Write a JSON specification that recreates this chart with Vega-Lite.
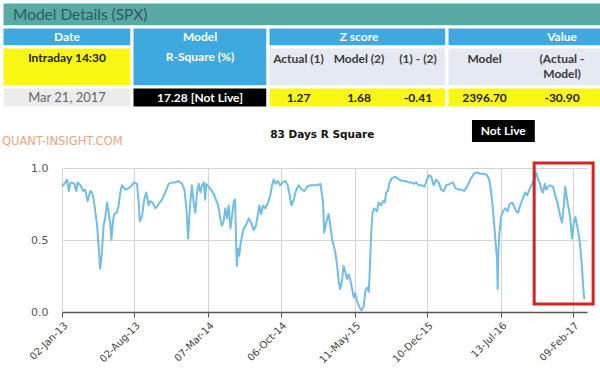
{
  "$schema": "https://vega.github.io/schema/vega-lite/v6.json",
  "padding": 0,
  "background": "white",
  "spacing": 16,
  "bounds": "flush",
  "config": {"view": {"stroke": null}},
  "datasets": {
    "cells": [
      {"col": 0, "col2": 7, "row": 0, "row2": 1, "kind": "title"},
      {"col": 0, "col2": 1, "row": 1, "row2": 2, "kind": "head"},
      {"col": 0, "col2": 1, "row": 2, "row2": 3, "kind": "yellow"},
      {"col": 1, "col2": 2, "row": 1, "row2": 3, "kind": "head"},
      {"col": 2, "col2": 5, "row": 1, "row2": 2, "kind": "head"},
      {"col": 5, "col2": 7, "row": 1, "row2": 2, "kind": "head"},
      {"col": 2, "col2": 5, "row": 2, "row2": 3, "kind": "sub"},
      {"col": 5, "col2": 7, "row": 2, "row2": 3, "kind": "sub"},
      {"col": 0, "col2": 1, "row": 3, "row2": 4, "kind": "grey"},
      {"col": 1, "col2": 2, "row": 3, "row2": 4, "kind": "black"},
      {"col": 2, "col2": 5, "row": 3, "row2": 4, "kind": "yellow"},
      {"col": 5, "col2": 7, "row": 3, "row2": 4, "kind": "yellow"}
    ],
    "labels": [
      {"text": "Model Details (SPX)", "col": 0, "row": 0.5, "role": "title"},
      {"text": "Date", "col": 0.5, "row": 1.5, "role": "head"},
      {"text": "Model", "col": 1.5, "row": 1.5, "role": "head"},
      {"text": "R-Square (%)", "col": 1.5, "row": 2.25, "role": "head"},
      {"text": "Z score", "col": 3.5, "row": 1.5, "role": "head"},
      {"text": "Value", "col": 6.5, "row": 1.5, "role": "head"},
      {"text": "Intraday 14:30", "col": 0.5, "row": 2.28, "role": "val"},
      {"text": "Actual (1)", "col": 2.5, "row": 2.3, "role": "sub"},
      {"text": "Model (2)", "col": 3.5, "row": 2.3, "role": "sub"},
      {"text": "(1) - (2)", "col": 4.5, "row": 2.3, "role": "sub"},
      {"text": "Model", "col": 5.5, "row": 2.3, "role": "sub"},
      {"text": "(Actual -", "col": 6.5, "row": 2.3, "role": "sub"},
      {"text": "Model)", "col": 6.5, "row": 2.68, "role": "sub"},
      {"text": "Mar 21, 2017", "col": 0.5, "row": 3.5, "role": "date"},
      {"text": "17.28 [Not Live]", "col": 1.5, "row": 3.5, "role": "live"},
      {"text": "1.27", "col": 2.5, "row": 3.5, "role": "val"},
      {"text": "1.68", "col": 3.5, "row": 3.5, "role": "val"},
      {"text": "-0.41", "col": 4.5, "row": 3.5, "role": "val"},
      {"text": "2396.70", "col": 5.5, "row": 3.5, "role": "val"},
      {"text": "-30.90", "col": 6.5, "row": 3.5, "role": "val"}
    ],
    "series": [
      {"date": "2013-01-02", "r2": 0.87}, {"date": "2013-01-12", "r2": 0.90}, {"date": "2013-01-17", "r2": 0.92},
      {"date": "2013-01-22", "r2": 0.84}, {"date": "2013-01-26", "r2": 0.89}, {"date": "2013-01-31", "r2": 0.90},
      {"date": "2013-02-07", "r2": 0.89}, {"date": "2013-02-13", "r2": 0.84}, {"date": "2013-02-17", "r2": 0.90},
      {"date": "2013-02-25", "r2": 0.88}, {"date": "2013-03-05", "r2": 0.84}, {"date": "2013-03-11", "r2": 0.85},
      {"date": "2013-03-18", "r2": 0.77}, {"date": "2013-03-26", "r2": 0.84}, {"date": "2013-03-31", "r2": 0.83},
      {"date": "2013-04-05", "r2": 0.78}, {"date": "2013-04-10", "r2": 0.69}, {"date": "2013-04-15", "r2": 0.60},
      {"date": "2013-04-20", "r2": 0.44}, {"date": "2013-04-24", "r2": 0.30}, {"date": "2013-04-29", "r2": 0.41},
      {"date": "2013-05-04", "r2": 0.60}, {"date": "2013-05-09", "r2": 0.66}, {"date": "2013-05-14", "r2": 0.76},
      {"date": "2013-05-19", "r2": 0.69}, {"date": "2013-05-24", "r2": 0.60}, {"date": "2013-05-27", "r2": 0.50},
      {"date": "2013-05-31", "r2": 0.62}, {"date": "2013-06-04", "r2": 0.68}, {"date": "2013-06-12", "r2": 0.69},
      {"date": "2013-06-17", "r2": 0.74}, {"date": "2013-06-22", "r2": 0.83}, {"date": "2013-06-27", "r2": 0.88},
      {"date": "2013-07-07", "r2": 0.85}, {"date": "2013-07-17", "r2": 0.86}, {"date": "2013-07-26", "r2": 0.88},
      {"date": "2013-08-02", "r2": 0.90}, {"date": "2013-08-10", "r2": 0.89}, {"date": "2013-08-15", "r2": 0.76},
      {"date": "2013-08-18", "r2": 0.63}, {"date": "2013-08-25", "r2": 0.67}, {"date": "2013-08-31", "r2": 0.78},
      {"date": "2013-09-06", "r2": 0.83}, {"date": "2013-09-13", "r2": 0.74}, {"date": "2013-09-18", "r2": 0.77},
      {"date": "2013-09-25", "r2": 0.76}, {"date": "2013-10-03", "r2": 0.72}, {"date": "2013-10-13", "r2": 0.75},
      {"date": "2013-10-22", "r2": 0.78}, {"date": "2013-11-01", "r2": 0.83}, {"date": "2013-11-11", "r2": 0.89},
      {"date": "2013-11-21", "r2": 0.90}, {"date": "2013-11-30", "r2": 0.90}, {"date": "2013-12-10", "r2": 0.91},
      {"date": "2013-12-20", "r2": 0.89}, {"date": "2013-12-27", "r2": 0.85}, {"date": "2014-01-02", "r2": 0.72},
      {"date": "2014-01-07", "r2": 0.51}, {"date": "2014-01-12", "r2": 0.72}, {"date": "2014-01-18", "r2": 0.88},
      {"date": "2014-01-23", "r2": 0.76}, {"date": "2014-01-28", "r2": 0.69}, {"date": "2014-02-02", "r2": 0.83},
      {"date": "2014-02-07", "r2": 0.89}, {"date": "2014-02-12", "r2": 0.83}, {"date": "2014-02-17", "r2": 0.88},
      {"date": "2014-02-22", "r2": 0.90}, {"date": "2014-02-26", "r2": 0.78}, {"date": "2014-03-01", "r2": 0.89},
      {"date": "2014-03-08", "r2": 0.87}, {"date": "2014-03-15", "r2": 0.85}, {"date": "2014-03-23", "r2": 0.82},
      {"date": "2014-04-02", "r2": 0.76}, {"date": "2014-04-07", "r2": 0.72}, {"date": "2014-04-11", "r2": 0.65},
      {"date": "2014-04-16", "r2": 0.60}, {"date": "2014-04-21", "r2": 0.63}, {"date": "2014-04-26", "r2": 0.72},
      {"date": "2014-05-01", "r2": 0.65}, {"date": "2014-05-06", "r2": 0.74}, {"date": "2014-05-11", "r2": 0.58},
      {"date": "2014-05-16", "r2": 0.67}, {"date": "2014-05-21", "r2": 0.77}, {"date": "2014-05-25", "r2": 0.78},
      {"date": "2014-05-28", "r2": 0.44}, {"date": "2014-05-30", "r2": 0.32}, {"date": "2014-06-02", "r2": 0.44},
      {"date": "2014-06-06", "r2": 0.39}, {"date": "2014-06-09", "r2": 0.46}, {"date": "2014-06-14", "r2": 0.53},
      {"date": "2014-06-19", "r2": 0.58}, {"date": "2014-06-27", "r2": 0.61}, {"date": "2014-07-04", "r2": 0.65},
      {"date": "2014-07-11", "r2": 0.62}, {"date": "2014-07-18", "r2": 0.57}, {"date": "2014-07-25", "r2": 0.60},
      {"date": "2014-07-30", "r2": 0.67}, {"date": "2014-08-04", "r2": 0.74}, {"date": "2014-08-09", "r2": 0.68},
      {"date": "2014-08-15", "r2": 0.74}, {"date": "2014-08-21", "r2": 0.72}, {"date": "2014-08-28", "r2": 0.75},
      {"date": "2014-09-05", "r2": 0.81}, {"date": "2014-09-10", "r2": 0.88}, {"date": "2014-09-15", "r2": 0.92},
      {"date": "2014-09-20", "r2": 0.89}, {"date": "2014-09-27", "r2": 0.91}, {"date": "2014-10-04", "r2": 0.88},
      {"date": "2014-10-12", "r2": 0.90}, {"date": "2014-10-19", "r2": 0.91}, {"date": "2014-10-26", "r2": 0.88},
      {"date": "2014-11-01", "r2": 0.81}, {"date": "2014-11-06", "r2": 0.74}, {"date": "2014-11-13", "r2": 0.78},
      {"date": "2014-11-19", "r2": 0.84}, {"date": "2014-11-27", "r2": 0.88}, {"date": "2014-12-07", "r2": 0.85},
      {"date": "2014-12-14", "r2": 0.84}, {"date": "2014-12-22", "r2": 0.87}, {"date": "2014-12-31", "r2": 0.88},
      {"date": "2015-01-10", "r2": 0.88}, {"date": "2015-01-20", "r2": 0.88}, {"date": "2015-01-30", "r2": 0.89},
      {"date": "2015-02-07", "r2": 0.76}, {"date": "2015-02-10", "r2": 0.55}, {"date": "2015-02-16", "r2": 0.62},
      {"date": "2015-02-23", "r2": 0.68}, {"date": "2015-02-28", "r2": 0.60}, {"date": "2015-03-05", "r2": 0.51},
      {"date": "2015-03-10", "r2": 0.46}, {"date": "2015-03-15", "r2": 0.41}, {"date": "2015-03-20", "r2": 0.32},
      {"date": "2015-03-25", "r2": 0.21}, {"date": "2015-03-29", "r2": 0.16}, {"date": "2015-04-03", "r2": 0.21},
      {"date": "2015-04-08", "r2": 0.32}, {"date": "2015-04-13", "r2": 0.28}, {"date": "2015-04-18", "r2": 0.23},
      {"date": "2015-04-23", "r2": 0.26}, {"date": "2015-04-28", "r2": 0.22}, {"date": "2015-05-03", "r2": 0.16},
      {"date": "2015-05-08", "r2": 0.10}, {"date": "2015-05-12", "r2": 0.13}, {"date": "2015-05-17", "r2": 0.08},
      {"date": "2015-05-25", "r2": 0.03}, {"date": "2015-05-30", "r2": 0.01}, {"date": "2015-06-06", "r2": 0.04},
      {"date": "2015-06-11", "r2": 0.15}, {"date": "2015-06-16", "r2": 0.17}, {"date": "2015-06-21", "r2": 0.14},
      {"date": "2015-06-24", "r2": 0.30}, {"date": "2015-06-28", "r2": 0.55}, {"date": "2015-07-02", "r2": 0.69},
      {"date": "2015-07-07", "r2": 0.72}, {"date": "2015-07-15", "r2": 0.70}, {"date": "2015-07-20", "r2": 0.76},
      {"date": "2015-07-27", "r2": 0.74}, {"date": "2015-08-02", "r2": 0.77}, {"date": "2015-08-07", "r2": 0.76},
      {"date": "2015-08-11", "r2": 0.83}, {"date": "2015-08-16", "r2": 0.84}, {"date": "2015-08-21", "r2": 0.90},
      {"date": "2015-08-28", "r2": 0.93}, {"date": "2015-09-07", "r2": 0.94}, {"date": "2015-09-17", "r2": 0.92},
      {"date": "2015-09-26", "r2": 0.91}, {"date": "2015-10-06", "r2": 0.91}, {"date": "2015-10-16", "r2": 0.90},
      {"date": "2015-10-24", "r2": 0.90}, {"date": "2015-10-31", "r2": 0.89}, {"date": "2015-11-07", "r2": 0.90},
      {"date": "2015-11-14", "r2": 0.88}, {"date": "2015-11-24", "r2": 0.88}, {"date": "2015-12-01", "r2": 0.87},
      {"date": "2015-12-07", "r2": 0.91}, {"date": "2015-12-14", "r2": 0.95}, {"date": "2015-12-21", "r2": 0.94},
      {"date": "2015-12-28", "r2": 0.88}, {"date": "2016-01-04", "r2": 0.92}, {"date": "2016-01-12", "r2": 0.90},
      {"date": "2016-01-19", "r2": 0.85}, {"date": "2016-01-27", "r2": 0.84}, {"date": "2016-02-03", "r2": 0.88},
      {"date": "2016-02-14", "r2": 0.89}, {"date": "2016-02-23", "r2": 0.90}, {"date": "2016-03-01", "r2": 0.86},
      {"date": "2016-03-11", "r2": 0.85}, {"date": "2016-03-20", "r2": 0.85}, {"date": "2016-03-27", "r2": 0.84},
      {"date": "2016-04-04", "r2": 0.87}, {"date": "2016-04-14", "r2": 0.92}, {"date": "2016-04-24", "r2": 0.96},
      {"date": "2016-05-03", "r2": 0.97}, {"date": "2016-05-13", "r2": 0.96}, {"date": "2016-05-23", "r2": 0.96},
      {"date": "2016-06-02", "r2": 0.95}, {"date": "2016-06-08", "r2": 0.92}, {"date": "2016-06-13", "r2": 0.85},
      {"date": "2016-06-18", "r2": 0.74}, {"date": "2016-06-23", "r2": 0.60}, {"date": "2016-06-27", "r2": 0.48},
      {"date": "2016-07-01", "r2": 0.37}, {"date": "2016-07-03", "r2": 0.16}, {"date": "2016-07-05", "r2": 0.41},
      {"date": "2016-07-08", "r2": 0.55}, {"date": "2016-07-13", "r2": 0.66}, {"date": "2016-07-19", "r2": 0.70},
      {"date": "2016-07-25", "r2": 0.72}, {"date": "2016-08-01", "r2": 0.70}, {"date": "2016-08-07", "r2": 0.75},
      {"date": "2016-08-14", "r2": 0.76}, {"date": "2016-08-19", "r2": 0.74}, {"date": "2016-08-26", "r2": 0.70},
      {"date": "2016-09-01", "r2": 0.69}, {"date": "2016-09-07", "r2": 0.74}, {"date": "2016-09-15", "r2": 0.79},
      {"date": "2016-09-22", "r2": 0.83}, {"date": "2016-09-27", "r2": 0.81}, {"date": "2016-10-04", "r2": 0.85},
      {"date": "2016-10-12", "r2": 0.89}, {"date": "2016-10-18", "r2": 0.92}, {"date": "2016-10-24", "r2": 0.97},
      {"date": "2016-10-29", "r2": 0.92}, {"date": "2016-11-03", "r2": 0.90}, {"date": "2016-11-08", "r2": 0.85},
      {"date": "2016-11-13", "r2": 0.83}, {"date": "2016-11-18", "r2": 0.89}, {"date": "2016-11-23", "r2": 0.85},
      {"date": "2016-11-28", "r2": 0.87}, {"date": "2016-12-04", "r2": 0.88}, {"date": "2016-12-12", "r2": 0.87},
      {"date": "2016-12-19", "r2": 0.81}, {"date": "2016-12-26", "r2": 0.75}, {"date": "2017-01-03", "r2": 0.66},
      {"date": "2017-01-08", "r2": 0.62}, {"date": "2017-01-13", "r2": 0.74}, {"date": "2017-01-17", "r2": 0.87},
      {"date": "2017-01-22", "r2": 0.79}, {"date": "2017-01-27", "r2": 0.72}, {"date": "2017-02-01", "r2": 0.65},
      {"date": "2017-02-06", "r2": 0.51}, {"date": "2017-02-11", "r2": 0.61}, {"date": "2017-02-16", "r2": 0.66},
      {"date": "2017-02-21", "r2": 0.60}, {"date": "2017-02-26", "r2": 0.53}, {"date": "2017-03-02", "r2": 0.46},
      {"date": "2017-03-07", "r2": 0.32}, {"date": "2017-03-12", "r2": 0.14}, {"date": "2017-03-14", "r2": 0.09}
    ]
  },
  "vconcat": [
    {
      "width": 600,
      "height": 150,
      "layer": [
        {
          "data": {"name": "cells"},
          "mark": {"type": "rect", "stroke": "white", "strokeWidth": 3},
          "encoding": {
            "x": {"field": "col", "type": "quantitative", "scale": {"domain": [0, 1, 2, 3, 4, 5, 6, 7], "range": [0, 130, 266, 327, 387, 445, 520, 600], "nice": false, "zero": false}, "axis": null},
            "y": {"field": "row", "type": "quantitative", "scale": {"domain": [0, 1, 2, 3, 4, 5], "range": [0, 25, 45, 85, 106, 150], "nice": false, "zero": false}, "axis": null},
            "x2": {"field": "col2"},
            "y2": {"field": "row2"},
            "fill": {"field": "kind", "type": "nominal", "legend": null,
              "scale": {"domain": ["title", "head", "sub", "yellow", "grey", "black"], "range": ["#59a9a4", "#3fa8de", "#e5e9f1", "#fbf714", "#ececec", "#000000"]}}
          }
        },
        {
          "data": {"name": "labels"},
          "encoding": {
            "x": {"field": "col", "type": "quantitative"},
            "y": {"field": "row", "type": "quantitative"},
            "text": {"field": "text"}
          },
          "layer": [
            {"transform": [{"filter": "datum.role === 'title'"}],
             "mark": {"type": "text", "align": "left", "dx": 11, "font": "Lato", "fontSize": 15.5, "color": "#2c5c62"}},
            {"transform": [{"filter": "datum.role === 'head'"}],
             "mark": {"type": "text", "font": "Lato", "fontSize": 12, "fontWeight": "bold", "color": "white"}},
            {"transform": [{"filter": "datum.role === 'sub'"}],
             "mark": {"type": "text", "font": "Lato", "fontSize": 12, "fontWeight": "bold", "color": "#3a3a3a"}},
            {"transform": [{"filter": "datum.role === 'val'"}],
             "mark": {"type": "text", "font": "Lato", "fontSize": 12, "fontWeight": "bold", "color": "#222222"}},
            {"transform": [{"filter": "datum.role === 'date'"}],
             "mark": {"type": "text", "font": "Lato", "fontSize": 13, "color": "#666666"}},
            {"transform": [{"filter": "datum.role === 'live'"}],
             "mark": {"type": "text", "font": "Lato", "fontSize": 12, "fontWeight": "bold", "color": "white"}}
          ]
        },
        {
          "data": {"values": [{"x": 0}]},
          "mark": {"type": "text", "align": "left", "dx": 0, "font": "DejaVu Sans", "fontSize": 11.5, "color": "#eaa77a"},
          "encoding": {"x": {"datum": 0, "type": "quantitative"}, "y": {"datum": 4.77, "type": "quantitative"}, "text": {"value": "QUANT-INSIGHT.COM"}}
        },
        {
          "data": {"values": [{"x": 0}]},
          "mark": {"type": "text", "font": "DejaVu Sans", "fontSize": 10.5, "fontWeight": "bold", "color": "#111111"},
          "encoding": {"x": {"datum": 2.89, "type": "quantitative"}, "y": {"datum": 4.61, "type": "quantitative"}, "text": {"value": "83 Days R Square"}}
        },
        {
          "data": {"values": [{"x": 0}]},
          "mark": {"type": "rect", "color": "#000000"},
          "encoding": {"x": {"datum": 5.333, "type": "quantitative"}, "x2": {"datum": 6.16}, "y": {"datum": 4.27, "type": "quantitative"}, "y2": {"datum": 4.77}}
        },
        {
          "data": {"values": [{"x": 0}]},
          "mark": {"type": "text", "font": "Lato", "fontSize": 12, "fontWeight": "bold", "color": "white"},
          "encoding": {"x": {"datum": 5.75, "type": "quantitative"}, "y": {"datum": 4.52, "type": "quantitative"}, "text": {"value": "Not Live"}}
        }
      ]
    },
    {
      "width": 600,
      "height": 144,
      "layer": [
        {
          "data": {"name": "series"},
          "mark": {"type": "line", "color": "#72bde6", "strokeWidth": 2, "strokeJoin": "round"},
          "encoding": {
            "x": {"field": "date", "type": "temporal",
              "scale": {"type": "utc", "domain": [{"year": 2013, "month": 1, "date": 2, "utc": true}, {"year": 2017, "month": 3, "date": 22, "utc": true}], "range": [60, 585]},
              "axis": {"title": null, "format": "%d-%b-%y", "labelAngle": -45, "labelOverlap": false, "labelFlush": false,
                "values": [
                  {"year": 2013, "month": 1, "date": 2, "utc": true},
                  {"year": 2013, "month": 8, "date": 2, "utc": true},
                  {"year": 2014, "month": 3, "date": 7, "utc": true},
                  {"year": 2014, "month": 10, "date": 6, "utc": true},
                  {"year": 2015, "month": 5, "date": 11, "utc": true},
                  {"year": 2015, "month": 12, "date": 10, "utc": true},
                  {"year": 2016, "month": 7, "date": 13, "utc": true},
                  {"year": 2017, "month": 2, "date": 9, "utc": true}
                ],
                "labelFont": "DejaVu Sans", "labelFontSize": 10, "labelColor": "#444444", "labelPadding": 3,
                "tickSize": 5, "tickColor": "#555555", "domainColor": "#555555", "domainWidth": 1.5, "gridColor": "#d4d4d4"}},
            "y": {"field": "r2", "type": "quantitative", "scale": {"domain": [0, 1]},
              "axis": {"title": null, "orient": "left", "offset": -60, "values": [0, 0.5, 1], "format": ".1f", "ticks": false, "domain": false,
                "labelPadding": 14, "labelFont": "DejaVu Sans", "labelFontSize": 11, "labelColor": "#555555", "gridColor": "#d4d4d4"}}
          }
        },
        {
          "data": {"values": [{"x": 0}]},
          "mark": {"type": "rect", "fillOpacity": 0, "stroke": "#d42424", "strokeWidth": 3},
          "encoding": {
            "x": {"datum": {"year": 2016, "month": 10, "date": 18, "utc": true}, "type": "temporal"},
            "x2": {"datum": {"year": 2017, "month": 4, "date": 9, "utc": true}},
            "y": {"datum": 1.035, "type": "quantitative"},
            "y2": {"datum": 0.056}
          }
        }
      ]
    }
  ]
}
